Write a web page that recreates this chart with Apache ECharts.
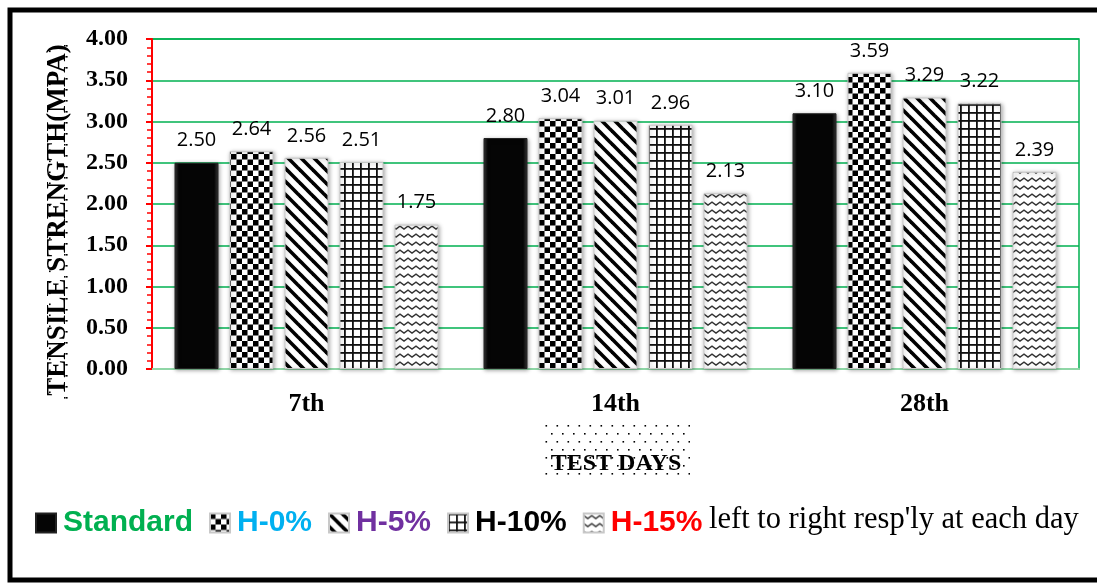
<!DOCTYPE html>
<html>
<head>
<meta charset="utf-8">
<script src="https://cdn.jsdelivr.net/npm/echarts@6/dist/echarts.min.js"></script>
<style>
html,body{margin:0;padding:0;background:#fff;}
#chart{width:1097px;height:585px;}
</style>
</head>
<body>
<div id="chart"></div>
<script>
// ---- data ----
const categories = ['7th', '14th', '28th'];
const seriesNames = ['Standard', 'H-0%', 'H-5%', 'H-10%', 'H-15%'];
const standardValues = [2.50, 2.80, 3.10];
const h0Values = [2.64, 3.04, 3.59];
const h5Values = [2.56, 3.01, 3.29];
const h10Values = [2.51, 2.96, 3.22];
const h15Values = [1.75, 2.13, 2.39];
const yTicks = [0, 0.5, 1, 1.5, 2, 2.5, 3, 3.5, 4];
const legendColors = ['#00b050', '#00b0f0', '#7030a0', '#000000', '#ff0000'];

// ---- patterns ----
function canvasOf(w, h, draw) {
  const c = document.createElement('canvas');
  c.width = w; c.height = h;
  const ctx = c.getContext('2d');
  ctx.fillStyle = '#fff';
  ctx.fillRect(0, 0, w, h);
  draw(ctx);
  return c;
}
const checker = canvasOf(11, 11, ctx => {
  ctx.fillStyle = '#000';
  ctx.fillRect(0, 0, 5.5, 5.5);
  ctx.fillRect(5.5, 5.5, 5.5, 5.5);
});
const diag = canvasOf(13, 13, ctx => {
  ctx.strokeStyle = '#000';
  ctx.lineWidth = 3.6;
  for (let o = -13; o <= 13; o += 13) {
    ctx.beginPath();
    ctx.moveTo(o - 2, -2);
    ctx.lineTo(o + 15, 15);
    ctx.stroke();
  }
});
const grid = canvasOf(8, 8, ctx => {
  ctx.fillStyle = '#111';
  ctx.fillRect(0, 0, 1.8, 8);
  ctx.fillRect(0, 0, 8, 1.8);
});
const zig = canvasOf(8, 8, ctx => {
  ctx.strokeStyle = '#333';
  ctx.lineWidth = 1.4;
  ctx.beginPath();
  ctx.moveTo(-4, 5); ctx.lineTo(0, 2); ctx.lineTo(4, 5); ctx.lineTo(8, 2); ctx.lineTo(12, 5);
  ctx.stroke();
});
const dotsBox = canvasOf(11, 16, ctx => {
  ctx.fillStyle = '#000';
  ctx.fillRect(1, 1, 1.6, 1.6);
  ctx.fillRect(6.5, 9, 1.6, 1.6);
});
const dotsSide = canvasOf(33, 11, ctx => {
  ctx.fillStyle = '#000';
  ctx.fillRect(0, 1, 1.6, 1.6);
  ctx.fillRect(31, 1, 1.6, 1.6);
  ctx.fillRect(16, 6.5, 1.6, 1.6);
});

const blackFill = {
  type: 'linear', x: 0, y: 0, x2: 1, y2: 0,
  colorStops: [{offset: 0, color: '#3a3a3a'}, {offset: 0.1, color: '#050505'}, {offset: 0.9, color: '#050505'}, {offset: 1, color: '#3a3a3a'}]
};
const fills = [
  blackFill,
  {image: checker, repeat: 'repeat'},
  {image: diag, repeat: 'repeat'},
  {image: grid, repeat: 'repeat'},
  {image: zig, repeat: 'repeat'}
];
const allValues = [standardValues, h0Values, h5Values, h10Values, h15Values];

const serif = '"Liberation Serif", "DejaVu Serif", serif';

const series = seriesNames.map((name, i) => ({
  name: name,
  type: 'bar',
  data: allValues[i],
  barWidth: 44,
  barGap: '25%',
  itemStyle: {
    color: fills[i],
    borderColor: i === 0 ? '#222' : '#c8c8c8',
    borderWidth: 1,
    shadowBlur: 4,
    shadowColor: 'rgba(0,0,0,0.35)',
    shadowOffsetX: 1,
    shadowOffsetY: 1
  },
  label: {
    show: true,
    position: 'top',
    distance: 12,
    color: '#000',
    fontFamily: '"Open Sans", "Noto Sans", sans-serif',
    fontSize: 20,
    formatter: p => p.value.toFixed(2)
  }
}));

const chart = echarts.init(document.getElementById('chart'), null, {renderer: 'canvas'});
chart.setOption({
  animation: false,
  backgroundColor: '#fff',
  grid: {
    left: 152, right: 18, top: 39, bottom: 216,
    show: true, borderColor: '#00b050', borderWidth: 1.5, backgroundColor: 'transparent'
  },
  xAxis: {
    type: 'category',
    data: categories,
    axisLine: {lineStyle: {color: '#8fd6a6', width: 2}},
    axisTick: {show: false},
    axisLabel: {
      margin: 22,
      color: '#000',
      fontFamily: serif,
      fontWeight: 'bold',
      fontSize: 26
    }
  },
  yAxis: {
    type: 'value',
    min: yTicks[0],
    max: yTicks[yTicks.length - 1],
    interval: yTicks[1] - yTicks[0],
    axisLine: {show: true, lineStyle: {color: '#ff0000', width: 2}},
    axisTick: {show: true, length: 6, lineStyle: {color: '#ff0000', width: 2}},
    minorTick: {show: true, splitNumber: 5, length: 5, lineStyle: {color: '#ff0000', width: 1.5}},
    splitLine: {show: true, lineStyle: {color: '#00b050', width: 1.5}},
    axisLabel: {
      margin: 24,
      color: '#000',
      fontFamily: serif,
      fontWeight: 'bold',
      fontSize: 24,
      formatter: v => v.toFixed(2)
    }
  },
  legend: {
    left: 30,
    top: 503,
    icon: 'rect',
    itemWidth: 20,
    itemHeight: 19,
    itemGap: 16,
    selectedMode: false,
    data: seriesNames.map((n, i) => ({name: n, textStyle: {color: legendColors[i]}})),
    textStyle: {
      fontFamily: '"Liberation Sans", Arial, sans-serif',
      fontWeight: 'bold',
      fontSize: 30,
      padding: [0, 0, 0, 2]
    }
  },
  graphic: [
    {
      type: 'rect', z: -10, silent: true,
      shape: {x: 10, y: 10, width: 1100, height: 570},
      style: {fill: 'none', stroke: '#000', lineWidth: 5}
    },
    {
      type: 'rect', z: -5, silent: true,
      shape: {x: 40, y: 44, width: 33, height: 356},
      style: {fill: {image: dotsSide, repeat: 'repeat'}}
    },
    {
      type: 'text', silent: true,
      x: 58, y: 220, rotation: Math.PI / 2,
      style: {
        text: 'TENSILE STRENGTH(MPA)',
        fill: '#000',
        font: 'bold 27px ' + serif,
        align: 'center', verticalAlign: 'middle'
      }
    },
    {
      type: 'rect', z: -5, silent: true,
      shape: {x: 543, y: 421, width: 147, height: 58},
      style: {fill: {image: dotsBox, repeat: 'repeat'}}
    },
    {
      type: 'text', silent: true,
      x: 616, y: 464,
      style: {
        text: 'TEST DAYS',
        fill: '#000',
        font: 'bold 24px ' + serif,
        align: 'center', verticalAlign: 'middle'
      }
    },
    {
      type: 'text', silent: true,
      x: 709, y: 520,
      style: {
        text: "left to right resp'ly at each day",
        fill: '#000',
        font: '30.5px ' + serif,
        align: 'left', verticalAlign: 'middle'
      }
    }
  ],
  series: series
});
</script>
</body>
</html>
